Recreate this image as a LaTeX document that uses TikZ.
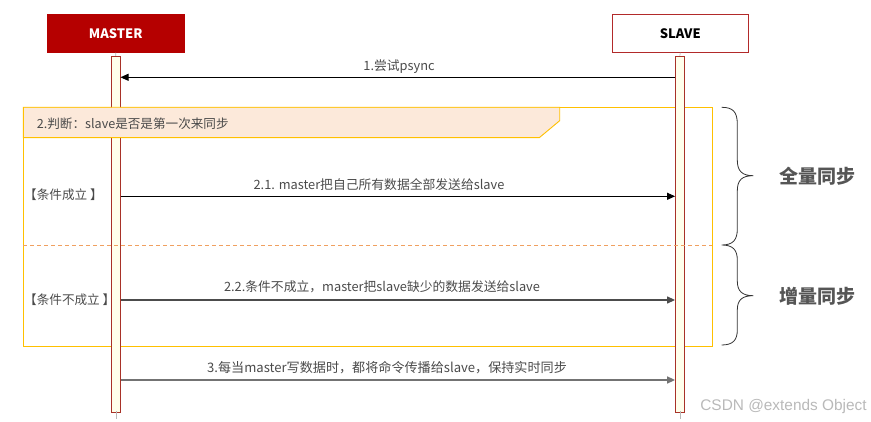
\documentclass[tikz,border=0pt]{standalone}
\usepackage{fontspec}
\setmainfont{Noto Sans CJK SC}
\newfontfamily\wmfont{Liberation Sans}
\usetikzlibrary{arrows.meta}
\definecolor{mred}{HTML}{B50000}
\definecolor{sred}{HTML}{B22A2A}
\definecolor{barfill}{HTML}{FFFFEB}
\definecolor{barline}{HTML}{A83228}
\definecolor{frameyel}{HTML}{FFC000}
\definecolor{hdrfill}{HTML}{FCE9DA}
\definecolor{dashor}{HTML}{F0A060}
\definecolor{txtgray}{HTML}{4A4A4A}
\definecolor{bigtxt}{HTML}{555555}
\begin{document}
\begin{tikzpicture}[x=1pt,y=-1pt,
  actorbox/.style={draw, line width=0.9pt, minimum width=137pt, minimum height=38pt, inner sep=0pt, font=\fontsize{13}{15}\selectfont\bfseries},
  lifebar/.style={draw=barline, fill=barfill, line width=0.9pt, minimum width=8.5pt, minimum height=356pt, inner sep=0pt},
  msg/.style={-{Triangle[length=8pt,width=7pt]}, line width=0.9pt},
  msglabel/.style={font=\fontsize{12.8}{14}\selectfont, text=txtgray, inner sep=0pt},
  sidelabel/.style={font=\fontsize{12.6}{14}\selectfont, text=txtgray, inner sep=0pt, anchor=west},
  bracelabel/.style={font=\fontsize{19}{22}\selectfont\bfseries, text=bigtxt, inner sep=0pt},
  stub/.style={draw=gray!55, line width=0.6pt}]
\useasboundingbox (0,0) rectangle (871,422);

% frame
\draw[frameyel, line width=0.9pt] (23.3,107.3) rectangle (712.3,346);

% actors
\node[actorbox, draw=mred, fill=mred, text=white] (mbox) at (115.7,33.3) {MASTER};
\node[actorbox, draw=sred, fill=white, text=black, minimum width=136pt] (sbox) at (680.3,33.3) {SLAVE};

% lifelines
\node[lifebar] (mbar) at (115.8,234.3) {};
\node[lifebar] (sbar) at (679.8,234.3) {};
\draw[stub] (mbox.south) -- (mbar.north);
\draw[stub] (sbox.south) -- (sbar.north);
\coordinate (mend) at (115.8,418.5);
\coordinate (send) at (679.8,418.5);
\draw[stub] ([yshift=2pt]mbar.south) -- (mend);
\draw[stub] ([yshift=2pt]sbar.south) -- (send);

% header (drawn over the lifeline)
\filldraw[fill=hdrfill, draw=frameyel, line width=0.9pt]
  (23.3,107.3) -- (559.7,107.3) -- (559.7,120.7) -- (539.3,137.7) -- (23.3,137.7) -- cycle;
\node[sidelabel] (hdr) at (36.7,123.3) {2.判断：slave是否是第一次来同步};

% dashed separator
\draw[dashor, dashed, dash pattern=on 4pt off 3pt, line width=0.8pt] (23.3,245.3) -- (712.3,245.3);

% message rows
\coordinate (y1) at (0,77.3);
\coordinate (y21) at (0,196.3);
\coordinate (y22) at (0,300);
\coordinate (y3) at (0,380);

\draw[msg, black] (sbar.west |- y1) -- (mbar.east |- y1);
\node[msglabel] (l1) at (399,66.3) {1.尝试psync};

\draw[msg, black] (mbar.east |- y21) -- (sbar.west |- y21);
\node[msglabel] (l21) at (379,184.3) {2.1. master把自己所有数据全部发送给slave};
\node[sidelabel] (c1) at (24,194.5) {【条件成立 】};

\draw[msg, black!70, line width=1.2pt] (mbar.east |- y22) -- (sbar.west |- y22);
\node[msglabel] (l22) at (382,286.7) {2.2.条件不成立，master把slave缺少的数据发送给slave};
\node[sidelabel] (c2) at (24,299.5) {【条件不成立 】};

\draw[msg, black!55, line width=1.6pt] (mbar.east |- y3) -- (sbar.west |- y3);
\node[msglabel, font=\fontsize{13.1}{15}\selectfont] (l3) at (387,368) {3.每当master写数据时，都将命令传播给slave，保持实时同步};

% braces
\draw[line width=0.8pt, black!80]
  (721.7,107.3) .. controls (733,107.3) and (737.3,112) .. (737.3,124)
  -- (737.3,160) .. controls (737.3,171) and (742,175.7) .. (753.3,175.7)
  .. controls (742,175.7) and (737.3,180) .. (737.3,191)
  -- (737.3,229) .. controls (737.3,240) and (733,245) .. (721.7,245)
  .. controls (733,245) and (737.3,250) .. (737.3,260)
  -- (737.3,281) .. controls (737.3,291) and (742,295.7) .. (753.3,295.7)
  .. controls (742,295.7) and (737.3,300) .. (737.3,310)
  -- (737.3,330) .. controls (737.3,340) and (733,345) .. (721.7,345);
\node[bracelabel] (full) at (817.5,176.5) {全量同步};
\node[bracelabel] (incr) at (817.5,296.5) {增量同步};

% watermark
\node[font=\wmfont\fontsize{15.4}{17}\selectfont, text=gray!55, inner sep=0pt] (wm) at (783.5,407) {CSDN @extends Object};
\end{tikzpicture}
\end{document}
